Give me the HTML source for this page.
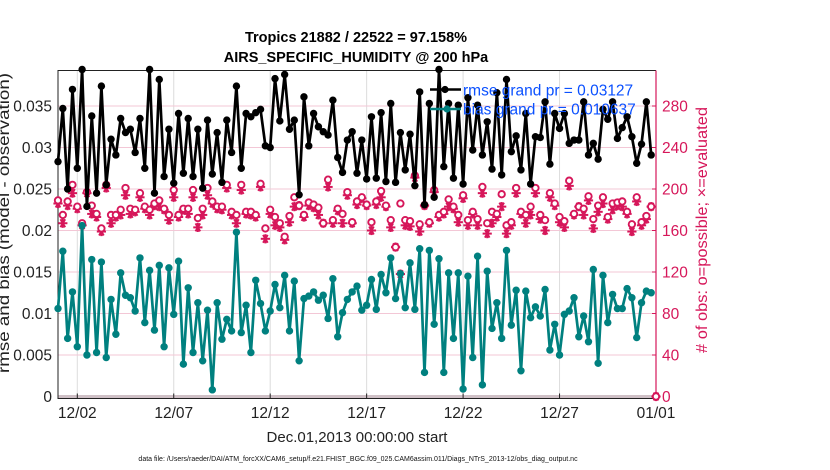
<!DOCTYPE html>
<html><head><meta charset="utf-8"><style>
html,body{margin:0;padding:0;background:#fff;}
svg{display:block;font-family:"Liberation Sans",Arial,sans-serif;}
</style></head><body>
<svg id="chart" width="830" height="470" viewBox="0 0 830 470">
<text x="356" y="42" text-anchor="middle" font-size="14.5" font-weight="bold">Tropics 21882 / 22522 = 97.158%</text>
<text x="356" y="62" text-anchor="middle" font-size="14.5" font-weight="bold">AIRS_SPECIFIC_HUMIDITY @ 200 hPa</text>
<g id="grid"></g>
<g id="axes"></g>
<g id="marks"></g>
<text x="357" y="442" text-anchor="middle" font-size="15" fill="#222">Dec.01,2013 00:00:00 start</text>
<text x="9" y="223" transform="rotate(-90 9 223)" text-anchor="middle" font-size="16" textLength="300" lengthAdjust="spacingAndGlyphs" fill="#222">rmse and bias (model - observation)</text>
<text x="707" y="230" transform="rotate(-90 707 230)" text-anchor="middle" font-size="16" textLength="246" lengthAdjust="spacingAndGlyphs" fill="#d6175a"># of obs: o=possible; ×=evaluated</text>
<text x="358" y="461" text-anchor="middle" font-size="7" fill="#111">data file: /Users/raeder/DAI/ATM_forcXX/CAM6_setup/f.e21.FHIST_BGC.f09_025.CAM6assim.011/Diags_NTrS_2013-12/obs_diag_output.nc</text>
<g id="legend"></g>
</svg>
<script>
const rmse=[0.0283,0.0347,0.0250,0.0370,0.0275,0.0394,0.0229,0.0338,0.0245,0.0374,0.0255,0.0310,0.0291,0.0335,0.0318,0.0322,0.0294,0.0335,0.0275,0.0394,0.0245,0.0382,0.0265,0.0322,0.0257,0.0341,0.0269,0.0335,0.0265,0.0322,0.0251,0.0333,0.0268,0.0318,0.0258,0.0333,0.0294,0.0374,0.0275,0.0341,0.0337,0.0342,0.0346,0.0302,0.0300,0.0383,0.0332,0.0388,0.0322,0.0333,0.0243,0.0361,0.0302,0.0341,0.0325,0.0319,0.0315,0.0357,0.0288,0.0270,0.0309,0.0319,0.0269,0.0309,0.0262,0.0337,0.0263,0.0342,0.0259,0.0353,0.0258,0.0318,0.0273,0.0316,0.0254,0.0367,0.0231,0.0353,0.0240,0.0394,0.0277,0.0353,0.0263,0.0351,0.0256,0.0360,0.0297,0.0351,0.0291,0.0331,0.0274,0.0366,0.0267,0.0382,0.0295,0.0314,0.0273,0.0341,0.0256,0.0313,0.0312,0.0355,0.0280,0.0341,0.0323,0.0341,0.0305,0.0309,0.0309,0.0355,0.0291,0.0305,0.0286,0.0346,0.0334,0.0355,0.0311,0.0324,0.0337,0.0313,0.0281,0.0304,0.0355,0.0291];
const bias=[0.0106,0.0175,0.0070,0.0126,0.0060,0.0206,0.0050,0.0165,0.0053,0.0162,0.0047,0.0117,0.0075,0.0149,0.0122,0.0119,0.0103,0.0167,0.0089,0.0152,0.0080,0.0158,0.0060,0.0155,0.0099,0.0163,0.0039,0.0131,0.0053,0.0113,0.0043,0.0104,0.0008,0.0113,0.0069,0.0093,0.0079,0.0198,0.0077,0.0110,0.0053,0.0140,0.0112,0.0079,0.0103,0.0135,0.0107,0.0146,0.0079,0.0139,0.0043,0.0118,0.0121,0.0126,0.0116,0.0122,0.0094,0.0142,0.0072,0.0101,0.0117,0.0126,0.0133,0.0104,0.0110,0.0141,0.0105,0.0147,0.0125,0.0167,0.0118,0.0148,0.0107,0.0161,0.0105,0.0178,0.0029,0.0176,0.0087,0.0166,0.0029,0.0149,0.0070,0.0149,0.0009,0.0145,0.0047,0.0169,0.0014,0.0151,0.0082,0.0113,0.0070,0.0176,0.0086,0.0128,0.0031,0.0127,0.0095,0.0108,0.0097,0.0129,0.0056,0.0087,0.0050,0.0099,0.0103,0.0119,0.0072,0.0097,0.0066,0.0153,0.0040,0.0146,0.0089,0.0123,0.0106,0.0106,0.0130,0.0119,0.0071,0.0113,0.0127,0.0125];
const nPossible=[189,175,188,204,183,167,197,184,176,162,204,175,175,180,201,181,180,196,183,180,186,189,181,175,199,175,181,181,199,172,181,201,188,183,183,204,178,175,204,178,178,175,205,162,180,173,167,154,174,192,184,175,187,185,182,167,209,170,181,176,197,168,188,192,185,168,188,198,184,170,144,186,170,169,213,166,184,168,199,175,178,190,183,175,194,170,178,171,202,167,178,176,195,165,168,201,178,175,183,201,175,170,196,186,173,169,208,176,183,181,193,171,184,192,173,186,187,188,178,166,192,168,174,183,0];
const nEvaluated=[186,167,184,196,181,165,196,176,173,159,201,167,173,175,194,176,178,192,181,175,184,183,180,170,192,173,180,176,192,163,175,194,186,181,180,201,175,167,199,176,175,173,202,152,176,165,163,151,168,183,184,173,184,182,175,167,202,167,179,167,194,167,185,191,184,160,185,192,183,163,144,118,165,164,211,159,184,167,197,173,176,183,181,168,191,165,176,165,196,157,167,173,183,157,165,196,176,167,175,196,171,160,192,184,168,163,203,175,183,175,189,162,178,186,171,180,184,183,176,159,188,165,171,183,0];
const leftTicks=[0,0.005,0.01,0.015,0.02,0.025,0.03,0.035];
const leftTickLabels=["0","0.005","0.01","0.015","0.02","0.025","0.03","0.035"];
const rightTicks=[0,40,80,120,160,200,240,280];
const xTickDays=[1,6,11,16,21,26,31];
const xTickLabels=["12/02","12/07","12/12","12/17","12/22","12/27","01/01"];
const stepDays=0.25;

const NS="http://www.w3.org/2000/svg";
const X0=58, X1=656, Y0=396.5, YT=70.5;
const xS=d=>X0+d*(X1-X0)/31;
const yL=v=>Y0-v*8300;
const yR=c=>Y0-c*8300/8000;
function mk(tag,attrs,parent){const e=document.createElementNS(NS,tag);for(const k in attrs)e.setAttribute(k,attrs[k]);parent.appendChild(e);return e;}
const grid=document.getElementById('grid'),axes=document.getElementById('axes'),marks=document.getElementById('marks'),legend=document.getElementById('legend');
const MAG="#d6175a", TEAL="#00807f";

xTickDays.forEach((d,i)=>{
  const g=mk('line',{x1:xS(d),x2:xS(d),y1:YT,y2:Y0+2,stroke:"#dcdcdc","stroke-width":1},grid);
  
  
  const t=mk('line',{x1:xS(d),x2:xS(d),y1:Y0+2,y2:Y0-3,stroke:"#222","stroke-width":1},axes);
  
  
  const l=mk('text',{x:xS(d),y:418,"text-anchor":"middle","font-size":"15.5",fill:"#222"},axes);
  l.textContent=xTickLabels[i];
  
  
});
leftTicks.forEach((v,i)=>{
  if(v>0){const g=mk('line',{x1:X0,x2:X1,y1:yL(v),y2:yL(v),stroke:"#f3c7d6","stroke-width":1},grid);
  
  }
  const l=mk('text',{x:X0-6,y:yL(v)+5.5,"text-anchor":"end","font-size":"15.5",fill:"#222"},axes);
  l.textContent=leftTickLabels[i];
  
  
});
rightTicks.forEach(c=>{
  const t=mk('line',{x1:X1-4,x2:X1,y1:yR(c),y2:yR(c),stroke:MAG,"stroke-width":1},axes);
  
  
  const l=mk('text',{x:X1+6,y:yR(c)+5.5,"font-size":"15.5",fill:MAG},axes);
  l.textContent=String(c);
  
  
});
const zl=mk('line',{x1:X0,x2:X1,y1:Y0,y2:Y0,stroke:"#cfc0c6","stroke-width":3},grid);


const box=mk('path',{d:`M${X1},${YT} L${X0},${YT} L${X0},${Y0+2} L${X1},${Y0+2}`,fill:"none",stroke:"#222","stroke-width":1},axes);


const ra=mk('line',{x1:X1,x2:X1,y1:YT,y2:Y0+2,stroke:MAG,"stroke-width":1.2},axes);



function star(cx,cy,r,parent,name){
  const g=mk('g',{stroke:MAG,"stroke-width":2},parent);
  
  
  [0,60,120,90].forEach(a=>{const rad=a*Math.PI/180;mk('line',{x1:cx-r*Math.cos(rad),y1:cy-r*Math.sin(rad),x2:cx+r*Math.cos(rad),y2:cy+r*Math.sin(rad)},g);});
}
nEvaluated.forEach((c,i)=>{star(xS(i*stepDays),yR(c),4.6,marks,'evaluated-count-point');});
nPossible.forEach((c,i)=>{
  const e=mk('circle',{cx:xS(i*stepDays),cy:yR(c),r:3.2,fill:"#fff",stroke:MAG,"stroke-width":1.9},marks);
  
  
});
function series(vals,color,name){
  const pts=vals.map((v,i)=>xS(i*stepDays).toFixed(1)+","+yL(v).toFixed(1)).join(" ");
  const pl=mk('polyline',{points:pts,fill:"none",stroke:color,"stroke-width":2.7,"stroke-linejoin":"round"},marks);
  
  
  vals.forEach((v,i)=>{
    const c=mk('circle',{cx:xS(i*stepDays),cy:yL(v),r:3.7,fill:color},marks);
    
    
  });
}
series(bias,TEAL,'bias');
series(rmse,"#000",'rmse');

const l1=mk('line',{x1:430,x2:461,y1:89.5,y2:89.5,stroke:"#000","stroke-width":2.6},legend);


const c1=mk('circle',{cx:445,cy:89.5,r:3.6,fill:"#000"},legend);


const l2=mk('line',{x1:430,x2:461,y1:109,y2:109,stroke:TEAL,"stroke-width":2.6},legend);


const c2=mk('circle',{cx:447,cy:109,r:3.6,fill:TEAL},legend);


const t1=mk('text',{x:463,y:95.5,"font-size":"15.5",fill:"#0a50ff"},legend);
t1.textContent="rmse grand pr = 0.03127";


const t2=mk('text',{x:463,y:114.5,"font-size":"15.5",fill:"#0a50ff"},legend);
t2.textContent="bias grand pr = 0.010637";


</script>
</body></html>
